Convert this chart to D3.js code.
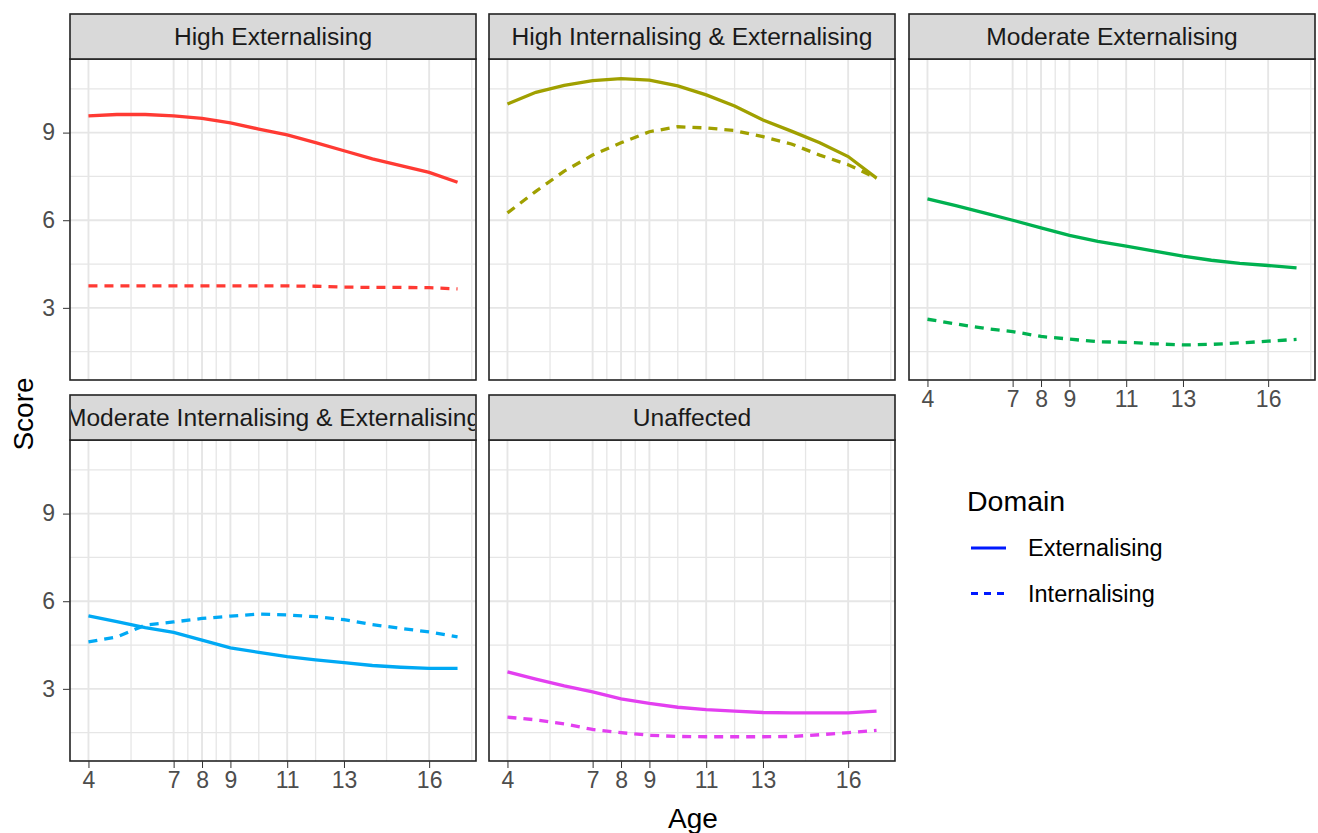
<!doctype html>
<html>
<head>
<meta charset="utf-8">
<style>
    body { margin: 0; background: #fff; }
    svg { font-family: "Liberation Sans", Arial, sans-serif; }
    .tick text { fill: #4d4d4d; }
    .tick line { stroke: #333; }
</style>
<script src="https://cdnjs.cloudflare.com/ajax/libs/d3/7.8.5/d3.min.js"></script>
</head>
<body>
<svg width="1318" height="833"></svg>
<script>

// data
var ages = [4, 5, 6, 7, 8, 9, 10, 11, 12, 13, 14, 15, 16, 17];
var classes = ["High Externalising", "High Internalising & Externalising", "Moderate Externalising",
               "Moderate Internalising & Externalising", "Unaffected"];
var classColors = ["#ff3a33", "#a0a000", "#00b150", "#00a9f4", "#e33ff0"];

var highExtExt   = [9.57, 9.62, 9.62, 9.57, 9.49, 9.33, 9.12, 8.92, 8.66, 8.38, 8.10, 7.87, 7.64, 7.30];
var highExtInt   = [3.75, 3.75, 3.75, 3.75, 3.75, 3.75, 3.75, 3.75, 3.74, 3.71, 3.70, 3.70, 3.69, 3.65];
var highBothExt  = [9.98, 10.38, 10.62, 10.78, 10.85, 10.80, 10.60, 10.29, 9.91, 9.43, 9.05, 8.65, 8.18, 7.44];
var highBothInt  = [6.25, 6.99, 7.68, 8.23, 8.65, 9.03, 9.20, 9.16, 9.07, 8.86, 8.61, 8.23, 7.90, 7.44];
var modExtExt    = [6.73, 6.50, 6.25, 6.00, 5.74, 5.48, 5.28, 5.11, 4.94, 4.77, 4.63, 4.52, 4.45, 4.37];
var modExtInt    = [2.61, 2.45, 2.30, 2.19, 2.02, 1.93, 1.84, 1.82, 1.77, 1.73, 1.75, 1.80, 1.86, 1.92];
var modBothExt   = [5.50, 5.30, 5.10, 4.93, 4.67, 4.40, 4.25, 4.10, 3.99, 3.90, 3.80, 3.74, 3.70, 3.70];
var modBothInt   = [4.61, 4.78, 5.18, 5.29, 5.41, 5.49, 5.56, 5.53, 5.47, 5.37, 5.20, 5.07, 4.95, 4.78];
var unaffExt     = [3.58, 3.33, 3.10, 2.90, 2.66, 2.50, 2.37, 2.29, 2.24, 2.19, 2.18, 2.18, 2.18, 2.24];
var unaffInt     = [2.03, 1.94, 1.80, 1.61, 1.50, 1.41, 1.37, 1.36, 1.36, 1.36, 1.37, 1.43, 1.50, 1.58];

var externalising = [highExtExt, highBothExt, modExtExt, modBothExt, unaffExt];
var internalising = [highExtInt, highBothInt, modExtInt, modBothInt, unaffInt];

var xBreaks = [4, 7, 8, 9, 11, 13, 16];
var xMinor = [5.5, 7.5, 8.5, 10, 12, 14.5, 17.5];
var yBreaks = [3, 6, 9];
var yMinor = [1.5, 4.5, 7.5, 10.5];
var domains = ["Externalising", "Internalising"];

// layout
var svg = d3.select("svg");
var colX = [70, 489, 909],
    rowY = [14, 395],
    panelW = 406,
    stripH = 45,
    panelH = 321;

var x = d3.scaleLinear().domain([3.35, 17.65]).range([0, panelW]);
var y = d3.scaleLinear().domain([0.53, 11.52]).range([panelH, 0]);

var line = d3.line()
    .x(function(d) { return x(d[0]); })
    .y(function(d) { return y(d[1]); });

classes.forEach(function(name, i) {
    var col = i % 3, row = Math.floor(i / 3);
    var g = svg.append("g")
        .attr("transform", "translate(" + colX[col] + "," + (rowY[row] + stripH) + ")");

    // grid
    g.selectAll(".gx").data(xMinor.concat(xBreaks)).enter().append("line")
        .attr("x1", function(d) { return x(d); }).attr("x2", function(d) { return x(d); })
        .attr("y1", 0).attr("y2", panelH)
        .attr("stroke", "#e6e6e6")
        .attr("stroke-width", function(d) { return xBreaks.indexOf(d) >= 0 ? 1.9 : 1.3; });
    g.selectAll(".gy").data(yMinor.concat(yBreaks)).enter().append("line")
        .attr("y1", function(d) { return y(d); }).attr("y2", function(d) { return y(d); })
        .attr("x1", 0).attr("x2", panelW)
        .attr("stroke", "#e6e6e6")
        .attr("stroke-width", function(d) { return yBreaks.indexOf(d) >= 0 ? 1.9 : 1.3; });

    // lines
    var ext = ages.map(function(a, k) { return [a, externalising[i][k]]; });
    var int = ages.map(function(a, k) { return [a, internalising[i][k]]; });
    g.append("path").datum(int)
        .attr("d", line).attr("fill", "none")
        .attr("stroke", classColors[i]).attr("stroke-width", 3.3)
        .attr("stroke-dasharray", "9,7");
    g.append("path").datum(ext)
        .attr("d", line).attr("fill", "none")
        .attr("stroke", classColors[i]).attr("stroke-width", 3.3);

    // border
    g.append("rect")
        .attr("x", 0).attr("y", 0).attr("width", panelW).attr("height", panelH)
        .attr("fill", "none").attr("stroke", "#222").attr("stroke-width", 1.6);

    // strip
    var clipId = "clip" + i;
    svg.append("clipPath").attr("id", clipId)
        .append("rect")
        .attr("x", colX[col] + 1).attr("y", rowY[row])
        .attr("width", panelW - 2).attr("height", stripH);
    svg.append("rect")
        .attr("x", colX[col]).attr("y", rowY[row])
        .attr("width", panelW).attr("height", stripH)
        .attr("fill", "#d9d9d9").attr("stroke", "#222").attr("stroke-width", 1.6);
    svg.append("text")
        .attr("clip-path", "url(#" + clipId + ")")
        .attr("x", colX[col] + panelW / 2)
        .attr("y", rowY[row] + stripH / 2 + 8)
        .attr("text-anchor", "middle")
        .attr("font-size", "24.6px")
        .attr("fill", "#1a1a1a")
        .text(name);

    // axes
    if (col === 0) {
        var ay = g.append("g")
            .call(d3.axisLeft(y).tickValues(yBreaks).tickSize(7).tickPadding(8));
        ay.select(".domain").remove();
        ay.selectAll("text").attr("font-size", "23px").attr("font-family", null);
    }
    if (row === 1 || col === 2) {
        var ax = g.append("g")
            .attr("transform", "translate(0," + panelH + ")")
            .call(d3.axisBottom(x).tickValues(xBreaks).tickSize(7).tickPadding(4));
        ax.select(".domain").remove();
        ax.selectAll("text").attr("font-size", "23px").attr("font-family", null);
    }
});

// axis titles
svg.append("text")
    .attr("x", 693).attr("y", 828)
    .attr("text-anchor", "middle")
    .attr("font-size", "28px")
    .text("Age");
svg.append("text")
    .attr("transform", "translate(33,414) rotate(-90)")
    .attr("text-anchor", "middle")
    .attr("font-size", "28px")
    .text("Score");

// legend
var legend = svg.append("g").attr("transform", "translate(967,0)");
legend.append("text")
    .attr("x", 0).attr("y", 511)
    .attr("font-size", "28.5px")
    .text("Domain");
var keys = legend.selectAll(".key").data(domains).enter().append("g")
    .attr("transform", function(d, k) { return "translate(0," + (548 + k * 45.5) + ")"; });
keys.append("line")
    .attr("x1", 4).attr("x2", 39).attr("y1", 0).attr("y2", 0)
    .attr("stroke", "#0019ff").attr("stroke-width", 3)
    .attr("stroke-dasharray", function(d, k) { return k === 1 ? "7,6" : null; });
keys.append("text")
    .attr("x", 61).attr("y", 0).attr("dy", "0.35em")
    .attr("font-size", "23.5px")
    .text(function(d) { return d; });

</script>
</body>
</html>
